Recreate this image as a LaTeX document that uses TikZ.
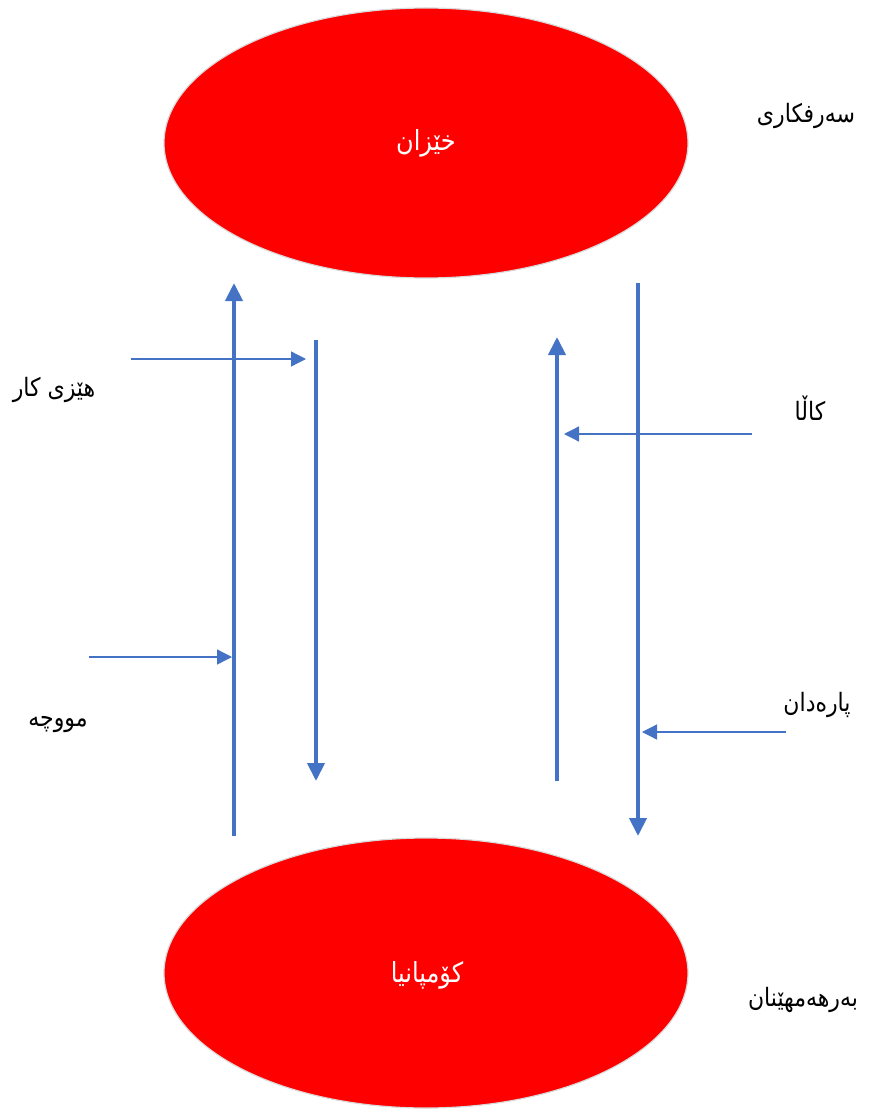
\documentclass[tikz,border=0pt]{standalone}
\usepackage{fontspec}
\usetikzlibrary{arrows.meta}
\TeXXeTstate=1
\newfontfamily\arabicfont[Script=Arabic]{DejaVu Sans}
\definecolor{flowblue}{HTML}{4472C4}
\definecolor{rimgray}{HTML}{D9D9D9}
\tikzset{
  x=1pt, y=-1pt,
  blob/.style={fill=red, draw=rimgray, line width=1.2pt},
  flow/.style={draw=flowblue, line width=4pt, -{Triangle[length=18pt,width=17pt]}},
  money/.style={draw=flowblue, line width=1.3pt, -{Triangle[length=15pt,width=15pt]}},
  lbl/.style={font=\fontsize{22}{26}\selectfont\arabicfont, text=black, inner sep=0pt, yscale=1.15},
  inlbl/.style={font=\fontsize{24}{28}\selectfont\arabicfont, text=white, inner sep=0pt, yscale=1.15},
}
\begin{document}
\begin{tikzpicture}
\useasboundingbox (0,0) rectangle (885,1110);
% ellipses
\fill[blob] (426,143) ellipse [x radius=262, y radius=135];
\fill[blob] (426,973) ellipse [x radius=262, y radius=135];
\node[inlbl, transform shape] (hh) at (426,143) {\beginR خێزان\endR};
\node[inlbl, transform shape] (co) at (427,975) {\beginR کۆمپانیا\endR};
% side labels
\node[lbl, transform shape] (cons) at (806,116) {\beginR سەرفکاری\endR};
\node[lbl, transform shape] (prod) at (803,1000) {\beginR بەرهەمهێنان\endR};
\node[lbl, transform shape] (labor) at (54,390) {\beginR هێزی کار\endR};
\node[lbl, transform shape] (goods) at (810,408) {\beginR کاڵا\endR};
\node[lbl, transform shape] (wage) at (58,725) {\beginR مووچە\endR};
\node[lbl, transform shape] (pay) at (817,705) {\beginR پارەدان\endR};
% coordinates for flows
\coordinate (a1) at (234,836);
\coordinate (a2) at (234,283);
\coordinate (b1) at (316,340);
\coordinate (b2) at (316,781);
\coordinate (c1) at (557,781);
\coordinate (c2) at (557,337);
\coordinate (d1) at (638,283);
\coordinate (d2) at (638,836);
\draw[flow] (a1) -- (a2);
\draw[flow] (b1) -- (b2);
\draw[flow] (c1) -- (c2);
\draw[flow] (d1) -- (d2);
% thin arrows
\coordinate (e1) at (131,359);
\coordinate (e2) at (306,359);
\coordinate (f1) at (752,434);
\coordinate (f2) at (564,434);
\coordinate (g1) at (89,657);
\coordinate (g2) at (232,657);
\coordinate (h1) at (786,732);
\coordinate (h2) at (642,732);
\draw[money] (e1) -- (e2);
\draw[money] (f1) -- (f2);
\draw[money] (g1) -- (g2);
\draw[money] (h1) -- (h2);
\end{tikzpicture}
\end{document}
